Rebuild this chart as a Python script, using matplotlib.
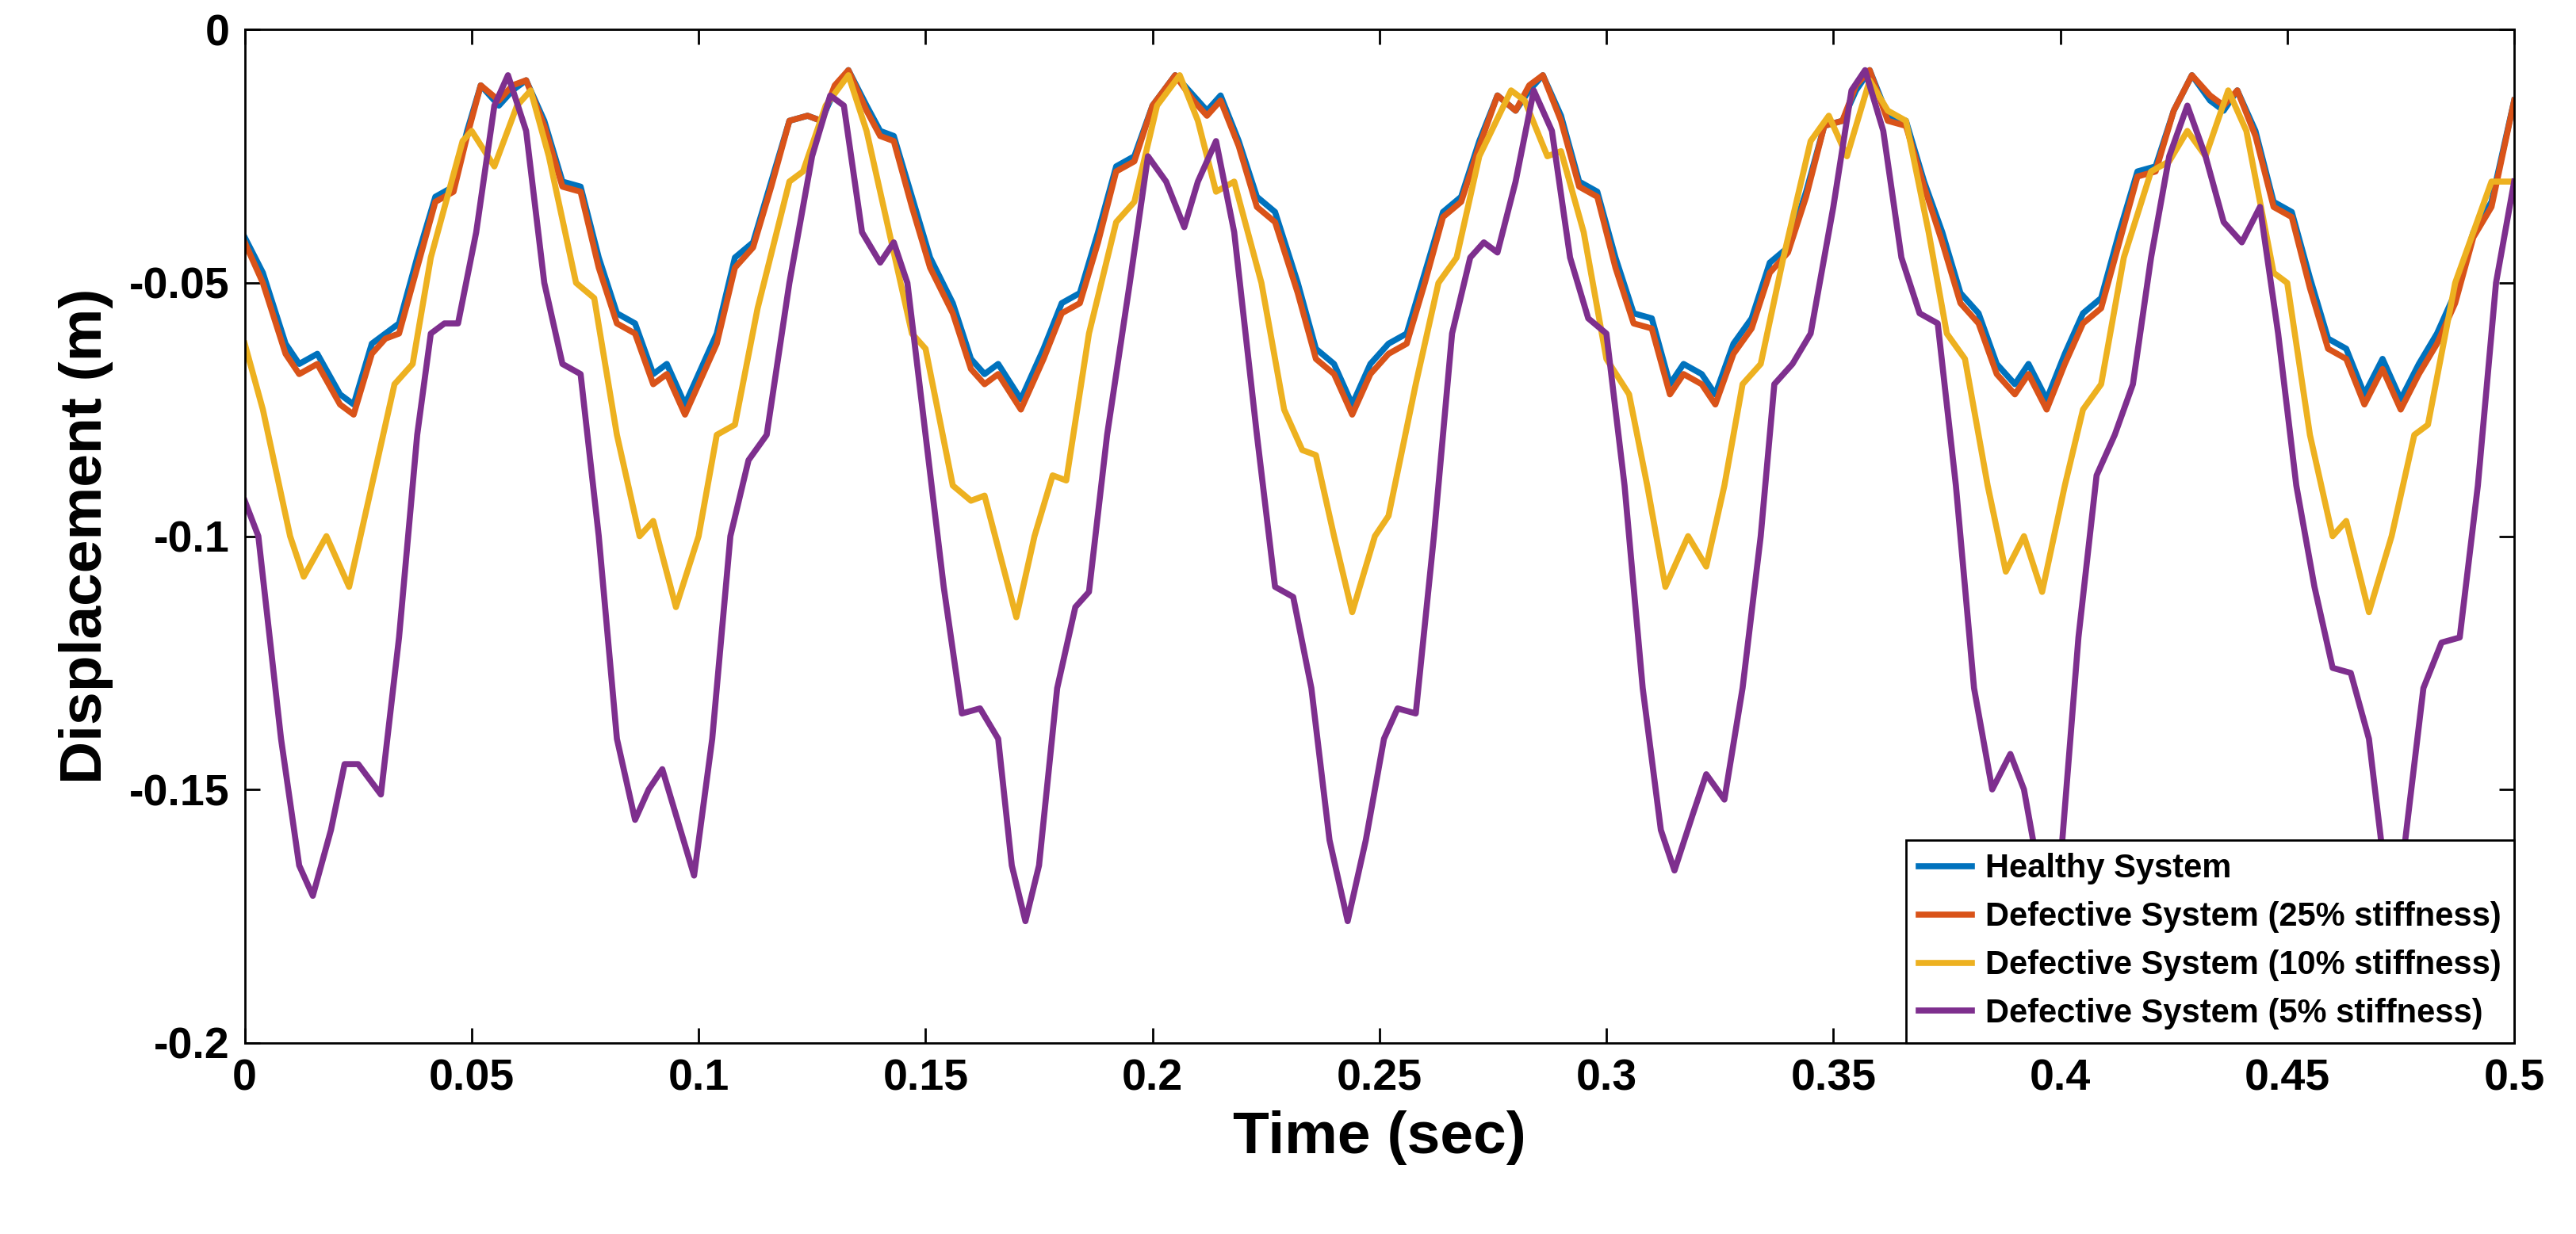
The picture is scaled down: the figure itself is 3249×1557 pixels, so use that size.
import matplotlib.pyplot as plt

# values
t_h = [0, 0.004, 0.009, 0.012, 0.016, 0.021, 0.024, 0.028, 0.031, 0.034, 0.038, 0.042, 0.046, 0.049,
       0.052, 0.056, 0.059, 0.062, 0.066, 0.07, 0.074, 0.078, 0.082, 0.086, 0.09, 0.093, 0.097, 0.1,
       0.104, 0.108, 0.112, 0.116, 0.12, 0.124, 0.127, 0.13, 0.133, 0.137, 0.14, 0.143, 0.147, 0.151,
       0.156, 0.16, 0.163, 0.166, 0.171, 0.176, 0.18, 0.184, 0.188, 0.192, 0.196, 0.2, 0.205, 0.209,
       0.212, 0.215, 0.219, 0.223, 0.227, 0.232, 0.236, 0.24, 0.244, 0.248, 0.252, 0.256, 0.26, 0.264,
       0.268, 0.272, 0.276, 0.28, 0.283, 0.286, 0.29, 0.294, 0.298, 0.302, 0.306, 0.31, 0.314, 0.317,
       0.321, 0.324, 0.328, 0.332, 0.336, 0.34, 0.344, 0.348, 0.352, 0.355, 0.358, 0.362, 0.366, 0.37,
       0.374, 0.378, 0.382, 0.386, 0.39, 0.393, 0.397, 0.401, 0.405, 0.409, 0.413, 0.417, 0.421, 0.425,
       0.429, 0.433, 0.436, 0.439, 0.443, 0.447, 0.451, 0.455, 0.459, 0.463, 0.467, 0.471, 0.475, 0.479,
       0.483, 0.487, 0.491, 0.495, 0.5]
healthy = [-0.041, -0.048, -0.062, -0.066, -0.064, -0.072, -0.074, -0.062, -0.06, -0.058, -0.045, -0.033, -0.031, -0.02,
           -0.011, -0.015, -0.012, -0.01, -0.018, -0.03, -0.031, -0.045, -0.056, -0.058, -0.068, -0.066, -0.074, -0.068,
           -0.06, -0.045, -0.042, -0.03, -0.018, -0.017, -0.018, -0.012, -0.008, -0.015, -0.02, -0.021, -0.033, -0.045,
           -0.054, -0.065, -0.068, -0.066, -0.073, -0.063, -0.054, -0.052, -0.04, -0.027, -0.025, -0.015, -0.009, -0.013,
           -0.016, -0.013, -0.022, -0.033, -0.036, -0.05, -0.063, -0.066, -0.074, -0.066, -0.062, -0.06, -0.048, -0.036,
           -0.033, -0.022, -0.013, -0.016, -0.012, -0.009, -0.017, -0.03, -0.032, -0.045, -0.056, -0.057, -0.07, -0.066,
           -0.068, -0.072, -0.062, -0.057, -0.046, -0.043, -0.032, -0.019, -0.018, -0.012, -0.008, -0.017, -0.018, -0.03,
           -0.04, -0.052, -0.056, -0.066, -0.07, -0.066, -0.073, -0.064, -0.056, -0.053, -0.04, -0.028, -0.027, -0.016,
           -0.009, -0.014, -0.016, -0.012, -0.02, -0.034, -0.036, -0.049, -0.061, -0.063, -0.072, -0.065, -0.073, -0.066,
           -0.06, -0.052, -0.04, -0.034, -0.014]
d25 = [-0.042, -0.05, -0.064, -0.068, -0.066, -0.074, -0.076, -0.064, -0.061, -0.06, -0.047, -0.034, -0.032, -0.021,
       -0.011, -0.014, -0.011, -0.01, -0.019, -0.031, -0.032, -0.047, -0.058, -0.06, -0.07, -0.068, -0.076, -0.07,
       -0.062, -0.047, -0.043, -0.031, -0.018, -0.017, -0.018, -0.011, -0.008, -0.016, -0.021, -0.022, -0.035, -0.047,
       -0.056, -0.067, -0.07, -0.068, -0.075, -0.065, -0.056, -0.054, -0.042, -0.028, -0.026, -0.015, -0.009, -0.014,
       -0.017, -0.014, -0.023, -0.035, -0.038, -0.052, -0.065, -0.068, -0.076, -0.068, -0.064, -0.062, -0.05, -0.037,
       -0.034, -0.023, -0.013, -0.016, -0.011, -0.009, -0.018, -0.031, -0.033, -0.047, -0.058, -0.059, -0.072, -0.068,
       -0.07, -0.074, -0.064, -0.059, -0.048, -0.044, -0.033, -0.019, -0.018, -0.011, -0.008, -0.018, -0.019, -0.031,
       -0.042, -0.054, -0.058, -0.068, -0.072, -0.068, -0.075, -0.066, -0.058, -0.055, -0.042, -0.029, -0.028, -0.016,
       -0.009, -0.013, -0.015, -0.012, -0.021, -0.035, -0.037, -0.051, -0.063, -0.065, -0.074, -0.067, -0.075, -0.068,
       -0.062, -0.054, -0.041, -0.035, -0.014]

t_10 = [0, 0.004, 0.01, 0.013, 0.018, 0.023, 0.028, 0.033, 0.037, 0.041, 0.048, 0.05, 0.055, 0.06, 0.063,
        0.067, 0.073, 0.077, 0.082, 0.087, 0.09, 0.095, 0.1, 0.104, 0.108, 0.113, 0.12, 0.123, 0.128, 0.133,
        0.137, 0.142, 0.147, 0.15, 0.156, 0.16, 0.163, 0.17, 0.174, 0.178, 0.181, 0.186, 0.192, 0.196, 0.201,
        0.206, 0.21, 0.214, 0.218, 0.224, 0.229, 0.233, 0.236, 0.24, 0.244, 0.249, 0.252, 0.258, 0.263, 0.267,
        0.272, 0.279, 0.282, 0.287, 0.29, 0.295, 0.3, 0.305, 0.309, 0.313, 0.318, 0.322, 0.326, 0.33, 0.334,
        0.339, 0.345, 0.349, 0.353, 0.358, 0.362, 0.366, 0.371, 0.375, 0.379, 0.384, 0.388, 0.392, 0.396, 0.401,
        0.405, 0.409, 0.414, 0.42, 0.424, 0.428, 0.432, 0.437, 0.441, 0.447, 0.45, 0.455, 0.46, 0.463, 0.468,
        0.473, 0.478, 0.481, 0.487, 0.495, 0.5]
d10 = [-0.062, -0.075, -0.1, -0.108, -0.1, -0.11, -0.09, -0.07, -0.066, -0.045, -0.022, -0.02, -0.027, -0.015, -0.012,
       -0.025, -0.05, -0.053, -0.08, -0.1, -0.097, -0.114, -0.1, -0.08, -0.078, -0.055, -0.03, -0.028, -0.015, -0.009,
       -0.02, -0.04, -0.06, -0.063, -0.09, -0.093, -0.092, -0.116, -0.1, -0.088, -0.089, -0.06, -0.038, -0.034, -0.015,
       -0.009, -0.018, -0.032, -0.03, -0.05, -0.075, -0.083, -0.084, -0.1, -0.115, -0.1, -0.096, -0.07, -0.05, -0.045,
       -0.025, -0.012, -0.014, -0.025, -0.024, -0.04, -0.065, -0.072, -0.09, -0.11, -0.1, -0.106, -0.09, -0.07, -0.066,
       -0.045, -0.022, -0.017, -0.025, -0.01, -0.016, -0.018, -0.04, -0.06, -0.065, -0.09, -0.107, -0.1, -0.111, -0.09,
       -0.075, -0.07, -0.045, -0.028, -0.026, -0.02, -0.025, -0.012, -0.02, -0.048, -0.05, -0.08, -0.1, -0.097, -0.115,
       -0.1, -0.08, -0.078, -0.05, -0.03, -0.03]

t_5 = [0, 0.003, 0.008, 0.012, 0.015, 0.019, 0.022, 0.025, 0.03, 0.034, 0.038, 0.041, 0.044, 0.047, 0.051,
       0.055, 0.058, 0.062, 0.066, 0.07, 0.074, 0.078, 0.082, 0.086, 0.089, 0.092, 0.096, 0.099, 0.103, 0.107,
       0.111, 0.115, 0.12, 0.125, 0.129, 0.132, 0.136, 0.14, 0.143, 0.146, 0.15, 0.154, 0.158, 0.162, 0.166,
       0.169, 0.172, 0.175, 0.179, 0.183, 0.186, 0.19, 0.195, 0.199, 0.203, 0.207, 0.21, 0.214, 0.218, 0.223,
       0.227, 0.231, 0.235, 0.239, 0.243, 0.247, 0.251, 0.254, 0.258, 0.262, 0.266, 0.27, 0.273, 0.276, 0.28,
       0.284, 0.288, 0.292, 0.296, 0.3, 0.304, 0.308, 0.312, 0.315, 0.319, 0.322, 0.326, 0.33, 0.334, 0.337,
       0.341, 0.345, 0.35, 0.354, 0.357, 0.361, 0.365, 0.369, 0.373, 0.377, 0.381, 0.385, 0.389, 0.392, 0.396,
       0.4, 0.404, 0.408, 0.412, 0.416, 0.42, 0.424, 0.428, 0.432, 0.436, 0.44, 0.444, 0.448, 0.452, 0.456,
       0.46, 0.464, 0.468, 0.472, 0.476, 0.48, 0.484, 0.488, 0.492, 0.496, 0.5]
d5 = [-0.093, -0.1, -0.14, -0.165, -0.171, -0.158, -0.145, -0.145, -0.151, -0.12, -0.08, -0.06, -0.058, -0.058, -0.04,
      -0.015, -0.009, -0.02, -0.05, -0.066, -0.068, -0.1, -0.14, -0.156, -0.15, -0.146, -0.158, -0.167, -0.14, -0.1,
      -0.085, -0.08, -0.05, -0.025, -0.013, -0.015, -0.04, -0.046, -0.042, -0.05, -0.08, -0.11, -0.135, -0.134, -0.14,
      -0.165, -0.176, -0.165, -0.13, -0.114, -0.111, -0.08, -0.05, -0.025, -0.03, -0.039, -0.03, -0.022, -0.04, -0.08,
      -0.11, -0.112, -0.13, -0.16, -0.176, -0.16, -0.14, -0.134, -0.135, -0.1, -0.06, -0.045, -0.042, -0.044, -0.03,
      -0.012, -0.02, -0.045, -0.057, -0.06, -0.09, -0.13, -0.158, -0.166, -0.155, -0.147, -0.152, -0.13, -0.1, -0.07,
      -0.066, -0.06, -0.035, -0.012, -0.008, -0.02, -0.045, -0.056, -0.058, -0.09, -0.13, -0.15, -0.143, -0.15, -0.17,
      -0.165, -0.12, -0.088, -0.08, -0.07, -0.045, -0.025, -0.015, -0.025, -0.038, -0.042, -0.035, -0.06, -0.09, -0.11,
      -0.126, -0.127, -0.14, -0.17, -0.16, -0.13, -0.121, -0.12, -0.09, -0.05, -0.03]

labels = ["Healthy System", "Defective System (25% stiffness)",
          "Defective System (10% stiffness)", "Defective System (5% stiffness)"]
colors = ["#0072BD", "#D95319", "#EDB120", "#7E2F8E"]


def main():
    plt.rcParams['font.family'] = ['Liberation Sans', 'DejaVu Sans']
    plt.rcParams['font.weight'] = 'bold'
    fig = plt.figure(figsize=(32.49, 15.57), dpi=100)
    ax = fig.add_axes([0.095, 0.155, 0.881, 0.821])

    series = [(t_h, healthy), (t_h, d25), (t_10, d10), (t_5, d5)]
    for (t, y), lab, c in zip(series, labels, colors):
        ax.plot(t, y, color=c, linewidth=5.5, label=lab)

    ax.set_xlim(0, 0.5)
    ax.set_ylim(-0.2, 0)
    ax.set_xticks([0, 0.05, 0.1, 0.15, 0.2, 0.25, 0.3, 0.35, 0.4, 0.45, 0.5])
    ax.set_xticklabels(["0", "0.05", "0.1", "0.15", "0.2", "0.25", "0.3", "0.35", "0.4", "0.45", "0.5"])
    ax.set_yticks([-0.2, -0.15, -0.1, -0.05, 0])
    ax.set_yticklabels(["-0.2", "-0.15", "-0.1", "-0.05", "0"])
    ax.tick_params(labelsize=40, direction='in', length=14, width=2, top=True, right=True, pad=14)
    for s in ax.spines.values():
        s.set_linewidth(2)
    ax.set_xlabel("Time (sec)", fontsize=54, fontweight='bold', labelpad=10)
    ax.set_ylabel("Displacement (m)", fontsize=54, fontweight='bold', labelpad=14)

    leg = ax.legend(loc='lower right', fontsize=30, frameon=True, fancybox=False,
                    borderaxespad=0, handlelength=1.6, handletextpad=0.4, borderpad=0.4, labelspacing=0.5)
    leg.get_frame().set_edgecolor('black')
    leg.get_frame().set_linewidth(2)
    leg.get_frame().set_alpha(1)

    plt.savefig("out.png")


if __name__ == "__main__":
    main()
